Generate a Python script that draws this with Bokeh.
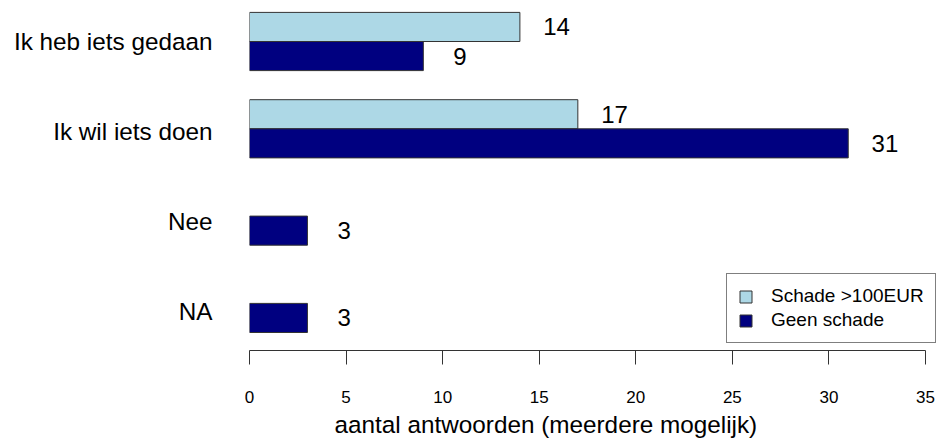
from bokeh.plotting import figure
from bokeh.models import FixedTicker, Legend, LegendItem, LinearAxis, Range1d, Title
from bokeh.embed import file_html
from bokeh.resources import INLINE
from bokeh.core.properties import value

# ---- data ----
categories = ["Ik heb iets gedaan", "Ik wil iets doen", "Nee", "NA"]
series_names = ["Schade >100EUR", "Geen schade"]
schade = [14, 17, 0, 0]
geen_schade = [9, 31, 3, 3]
x_ticks = [0, 5, 10, 15, 20, 25, 30, 35]
x_title = "aantal antwoorden (meerdere mogelijk)"

# ---- style ----
FONT = "Liberation Sans"
C_LIGHT = "#ADD8E6"
C_NAVY = "#000080"
EDGE = "#333333"

W, H = 938, 441
PX = 676 / 35.0          # pixels per x unit
UNIT = 29.1              # pixels per bar height
LEFT = 249
FRAME_H = 350
TOP_C = 41               # pixel of first group centre

x_end = (W - LEFT) / PX
y_end = TOP_C / UNIT
y_start = y_end - FRAME_H / UNIT

p = figure(width=W, height=H, output_backend="svg", toolbar_location=None,
           x_range=Range1d(0, x_end), y_range=Range1d(y_start, y_end),
           min_border_left=LEFT, min_border_right=0, min_border_top=0,
           min_border_bottom=H - FRAME_H, y_axis_location=None)
p.grid.visible = False
p.outline_line_color = None
p.background_fill_color = "white"
p.border_fill_color = "white"

n = len(categories)
centers = [-3 * i for i in range(n)]

def nz(vals, ys):
    return [v for v in vals if v > 0], [y for v, y in zip(vals, ys) if v > 0]

ys_a = [c + 0.5 for c in centers]
ys_b = [c - 0.5 for c in centers]
va, ya = nz(schade, ys_a)
vb, yb = nz(geen_schade, ys_b)

r1 = p.hbar(y=ya, left=0, right=va, height=1, fill_color=C_LIGHT,
            line_color=EDGE, line_width=1)
r2 = p.hbar(y=yb, left=0, right=vb, height=1, fill_color=C_NAVY,
            line_color=EDGE, line_width=1)

for vals, ys in ((va, ya), (vb, yb)):
    p.text(x=[v + 1.9 for v in vals], y=ys, text=[str(v) for v in vals],
           text_align="center", text_baseline="middle", text_font=value(FONT),
           text_font_size="24px", text_color="black")

# x axis
xa = p.xaxis[0]
xa.ticker = FixedTicker(ticks=x_ticks)
xa.bounds = (x_ticks[0], x_ticks[-1])
xa.axis_line_color = EDGE
xa.major_tick_line_color = EDGE
xa.major_tick_out = 14
xa.major_tick_in = 0
xa.minor_tick_line_color = None
xa.major_label_text_font = FONT
xa.major_label_text_font_size = "17px"
xa.major_label_text_color = "black"
xa.major_label_standoff = 26

# category axis on the left (labels only)
LSP = 90.0
lab_top = TOP_C / LSP
p.extra_y_ranges = {"lab": Range1d(lab_top - FRAME_H / LSP, lab_top)}
ya_ax = LinearAxis(y_range_name="lab")
ya_ax.ticker = FixedTicker(ticks=[-i for i in range(n)])
ya_ax.major_label_overrides = {-i: c for i, c in enumerate(categories)}
ya_ax.axis_line_color = None
ya_ax.major_tick_line_color = None
ya_ax.minor_tick_line_color = None
ya_ax.major_tick_out = 0
ya_ax.major_tick_in = 0
ya_ax.major_label_standoff = 37
ya_ax.major_label_text_font = FONT
ya_ax.major_label_text_font_size = "24.3px"
ya_ax.major_label_text_color = "black"
p.add_layout(ya_ax, "left")

# axis title (below the axis, placed from the left of the frame)
title = Title(text=x_title, align="left", offset=85, standoff=6,
              vertical_align="bottom",
              text_font=FONT, text_font_size="24.3px", text_font_style="normal",
              text_color="black")
p.add_layout(title, "below")

legend = Legend(items=[LegendItem(label=series_names[0], renderers=[r1]),
                       LegendItem(label=series_names[1], renderers=[r2])],
                location=(477, 7), orientation="vertical",
                padding=11, margin=0, spacing=2,
                glyph_width=15, glyph_height=15, label_height=20,
                label_standoff=18,
                label_text_font=FONT, label_text_font_size="19px",
                label_text_color="black",
                border_line_color="black", border_line_width=1,
                background_fill_color="white", background_fill_alpha=1.0)
p.add_layout(legend)

open("out.html", "w").write(file_html(p, INLINE))
